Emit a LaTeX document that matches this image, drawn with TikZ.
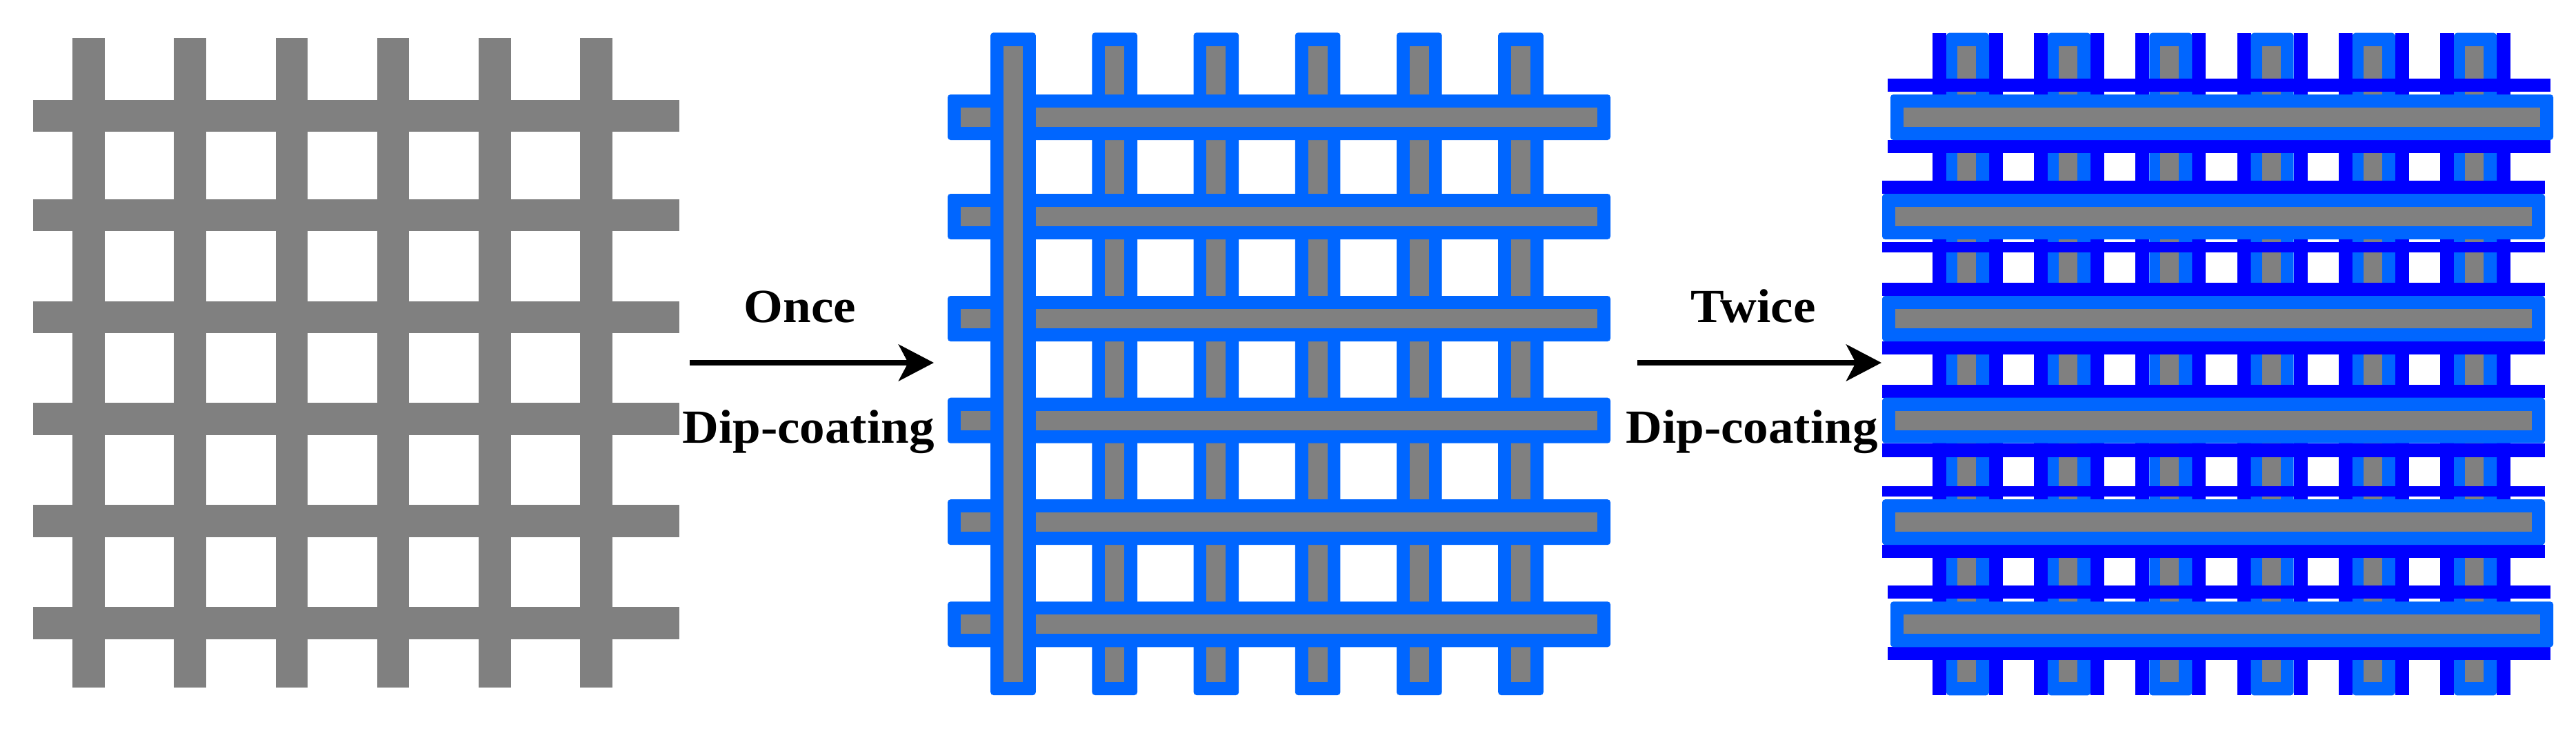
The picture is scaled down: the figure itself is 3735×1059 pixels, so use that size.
\documentclass[tikz,border=0pt]{standalone}
\usepackage{tikz}
\usetikzlibrary{arrows.meta}
\usepackage{xcolor}
\usepackage{fontspec}
\newfontfamily\lblfont[FakeStretch=1.06]{Liberation Serif}
\definecolor{wire}{RGB}{128,128,128}
\definecolor{coatA}{RGB}{0,102,255}
\definecolor{coatB}{RGB}{0,0,255}

\begin{document}
\begin{tikzpicture}[x=0.01cm, y=-0.01cm]
                \tikzstyle{wirecore} = [fill=wire];
                \tikzstyle{coatone} = [fill=coatA, rounded corners=1.2pt];
                \tikzstyle{coattwo} = [fill=coatB];
                \tikzstyle{dipnote} = [font=\lblfont\bfseries\fontsize{19.6pt}{23pt}\selectfont, inner sep=0pt, anchor=base];
                \tikzstyle{dip} = [-{Stealth[length=14.5pt, width=15pt, inset=3.9pt]}, line width=2.3pt];

                \useasboundingbox (0,0) rectangle (3735,1059);

                % bare mesh
                \foreach \x in {128.5,275.7,422.9,570.1,717.3,864.5}
                    \fill[wirecore] (\x-23.35,55) rectangle (\x+23.35,997);
                \foreach \y in {168,312,460,607.5,755.5,903.3}
                    \fill[wirecore] (47.8,\y-23.35) rectangle (985,\y+23.35);

                % coated once
                \foreach \x in {1616.2,1763.4,1910.6,2057.8,2205} {
                    \fill[coatone] (\x-32.8,47.3) rectangle (\x+32.8,1008);
                    \fill[wirecore] (\x-14,66.7) rectangle (\x+14,989);
                }
                \foreach \y in {170,314,462,609.7,757.2,905.3} {
                    \fill[coatone] (1374,\y-33) rectangle (2335,\y+33);
                    \fill[wirecore] (1393,\y-14) rectangle (2316,\y+14);
                }
                \fill[coatone] (1436.2,47.3) rectangle (1501.8,1008);
                \fill[wirecore] (1455,66.7) rectangle (1483,989);

                % coated twice
                \foreach \x in {2853,3000.2,3147.4,3294.6,3441.8,3589} {
                    \fill[coattwo] (\x-51,47.7) rectangle (\x-31,1008.3);
                    \fill[coattwo] (\x+31,47.7) rectangle (\x+51,1008.3);
                    \fill[coatone] (\x-31,47.7) rectangle (\x+31,1008.3);
                    \fill[wirecore] (\x-15,66.7) rectangle (\x+12,988.7);
                }
                \foreach \y/\l/\r/\s/\ta/\tb/\ba/\bb in {170/2741/3702/4/56/37/33/52, 314/2729/3690/0/52/33/37/52, 462/2729/3690/0/52/33/33/52, 609.7/2729/3690/0/52/33/33/53, 757.2/2729/3690/0/52/37/33/52, 905.3/2741/3702/4/56/37/33/52} {
                    \fill[coattwo] (\l-\s,\y-\ta) rectangle (\r-\s,\y-\tb);
                    \fill[coattwo] (\l-\s,\y+\ba) rectangle (\r-\s,\y+\bb);
                    \fill[coatone] (\l,\y-33) rectangle (\r,\y+33);
                    \fill[wirecore] (\l+19,\y-14) rectangle (\r-19,\y+14);
                }

                \coordinate (A1) at (1000,526);
                \coordinate (B1) at (1354,526);
                \coordinate (A2) at (2374,526);
                \coordinate (B2) at (2728,526);
                \draw[dip] (A1) -- (B1);
                \draw[dip] (A2) -- (B2);

                \node[dipnote] (once) at (1160,467.3) {Once};
                \node[dipnote] (dipone) at (1172,642.3) {Dip-coating};
                \node[dipnote] (twice) at (2542,467.3) {Twice};
                \node[dipnote] (diptwo) at (2540,642.3) {Dip-coating};
            \end{tikzpicture}
\end{document}
